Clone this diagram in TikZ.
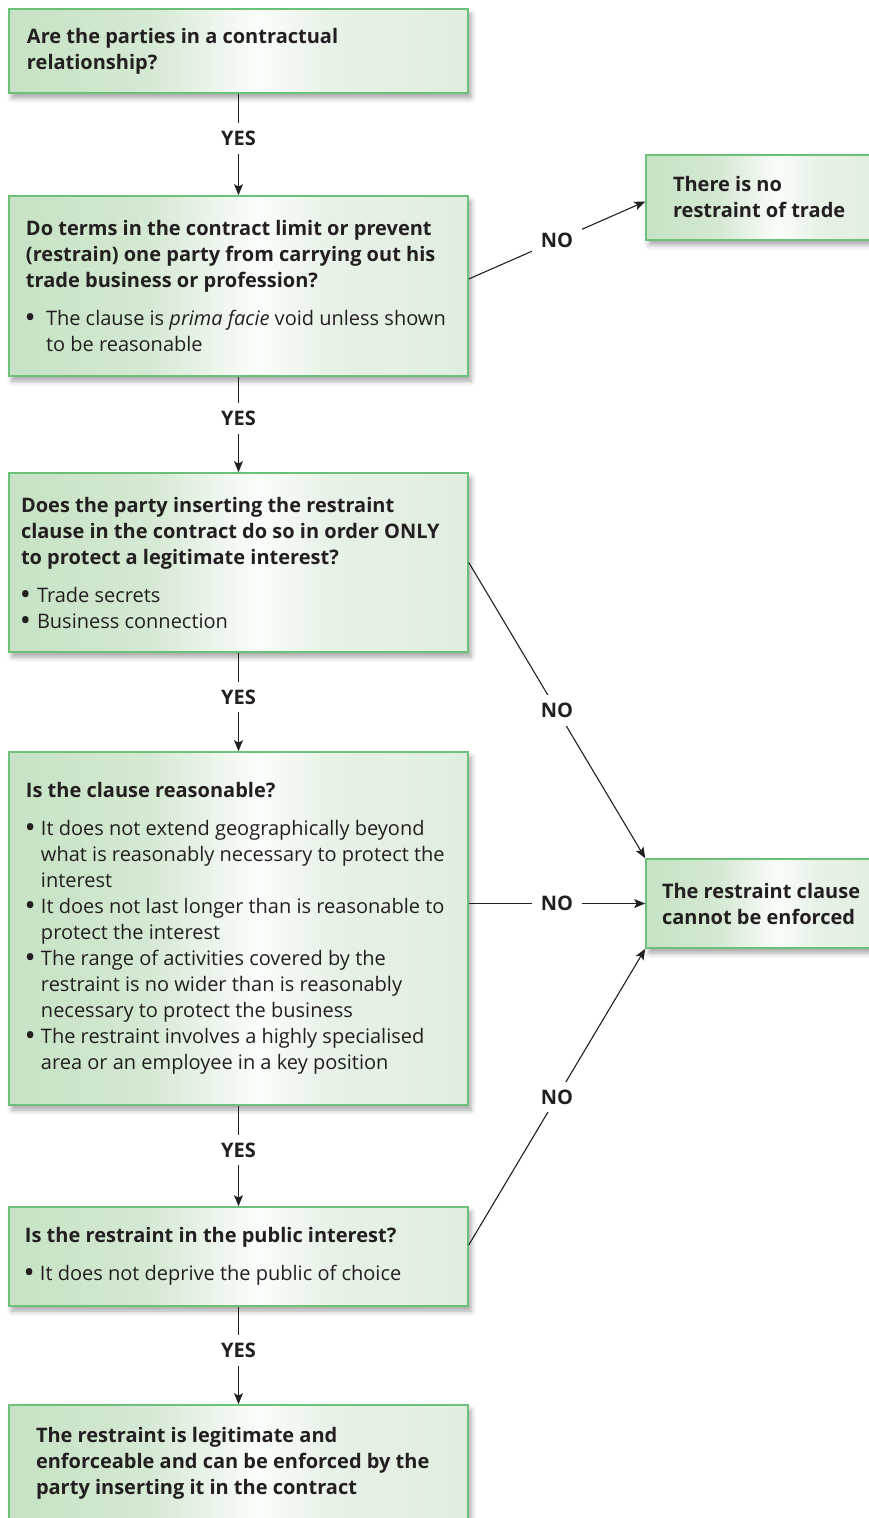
\documentclass[tikz,border=0pt]{standalone}
\usepackage{fontspec}
\setmainfont{Open Sans}
\usetikzlibrary{arrows.meta,shadows.blur}

\definecolor{ink}{HTML}{231F20}
\definecolor{boxline}{HTML}{6CC07A}
\definecolor{fillL}{HTML}{C6E2C4}
\definecolor{fillLm}{HTML}{D4E9D2}
\definecolor{fillC}{HTML}{FAFDFA}
\definecolor{fillRm}{HTML}{E7F2E6}
\definecolor{fillR}{HTML}{DFEEDE}

% horizontal panel fill: green on the left, pale in the middle, light green on the right
\pgfdeclarehorizontalshading{panelfill}{100bp}{%
  color(0bp)=(fillL); color(25bp)=(fillL); color(40bp)=(fillLm);
  color(52bp)=(fillC); color(60bp)=(fillRm); color(75bp)=(fillR); color(100bp)=(fillR)}

% text block inside a panel: left inset, block width, contents
\newcommand\paneltext[3]{\hspace*{#1}\parbox{#2}{\raggedright\fontsize{10}{13}\selectfont #3}}
% bullet point with hanging indent (lines inside are broken with \newline)
\newcommand\bpoint[2]{\par\hangindent=#1\hangafter=1\noindent
  \makebox[#1][l]{{\fontsize{11.5}{13}\selectfont\bfseries\textbullet}}#2\par}
% gap between a question and its bullet points
\newcommand\qgap{\par\vspace{6pt}}

\begin{document}
\begin{tikzpicture}[x=0.5pt,y=-0.5pt,
  panel/.style={shade, shading=panelfill, draw=boxline, line width=0.75pt,
    inner sep=0pt, text=ink,
    blur shadow={shadow xshift=1.5pt, shadow yshift=-2.5pt,
      shadow blur radius=2.5pt, shadow opacity=35}},
  conn/.style={draw=ink, line width=0.8pt,
    -{Stealth[length=5.5pt,width=4.4pt,inset=1.2pt]}},
  slant/.style={conn, line width=0.55pt},
  lbl/.style={fill=white, text=ink, font=\bfseries\fontsize{10}{12}\selectfont,
    inner xsep=4.5pt, inner ysep=4pt}]
\useasboundingbox (0,0) rectangle (868,1518);

% main column of questions
\node[panel, minimum width=229.5pt, minimum height=42pt] (b1) at (238.5,51)
  {\paneltext{9pt}{220.5pt}{\bfseries Are the parties in a contractual\\relationship?}};

\node[panel, minimum width=229.5pt, minimum height=90pt] (b2) at (238.5,286)
  {\paneltext{8.5pt}{221pt}{{\bfseries Do terms in the contract limit or prevent\\(restrain) one party from carrying out his\\trade business or profession?}\qgap
   \bpoint{10pt}{The clause is \textit{prima facie} void unless shown\newline to be reasonable}}};

\node[panel, minimum width=229.5pt, minimum height=89.5pt] (b3) at (238.5,562.5)
  {\paneltext{6pt}{223.5pt}{{\bfseries Does the party inserting the restraint\\clause in the contract do so in order ONLY\\to protect a legitimate interest?}\qgap
   \bpoint{8pt}{Trade secrets}
   \bpoint{8pt}{Business connection}}};

\node[panel, minimum width=229.5pt, minimum height=176.5pt] (b4) at (238.5,928.5)
  {\paneltext{8.5pt}{221pt}{{\bfseries Is the clause reasonable?}\qgap
   \bpoint{7.5pt}{It does not extend geographically beyond\newline what is reasonably necessary to protect the\newline interest}
   \bpoint{7.5pt}{It does not last longer than is reasonable to\newline protect the interest}
   \bpoint{7.5pt}{The range of activities covered by the\newline restraint is no wider than is reasonably\newline necessary to protect the business}
   \bpoint{7.5pt}{The restraint involves a highly specialised\newline area or an employee in a key position}}};

\node[panel, minimum width=229.5pt, minimum height=49.5pt] (b5) at (238.5,1256.5)
  {\paneltext{8pt}{221.5pt}{{\bfseries Is the restraint in the public interest?}\qgap
   \bpoint{7.5pt}{It does not deprive the public of choice}}};

\node[panel, minimum width=229.5pt, minimum height=58.5pt] (b6) at (238.5,1463.5)
  {\paneltext{13.5pt}{216pt}{\bfseries The restraint is legitimate and\\enforceable and can be enforced by the\\party inserting it in the contract}};

% outcomes on the right
\node[panel, minimum width=122pt, minimum height=42.5pt] (rb1) at (768,197.5)
  {\paneltext{13.5pt}{108.5pt}{\bfseries There is no\\restraint of trade}};

\node[panel, minimum width=122pt, minimum height=44.5pt] (rb2) at (768,903.5)
  {\paneltext{8pt}{114pt}{\bfseries The restraint clause\\cannot be enforced}};

% YES path down the column
\draw[conn] (b1.south) -- node[lbl, pos=0.44] (y1) {YES} (b2.north);
\draw[conn] (b2.south) -- node[lbl, pos=0.44] (y2) {YES} (b3.north);
\draw[conn] (b3.south) -- node[lbl, pos=0.45] (y3) {YES} (b4.north);
\draw[conn] (b4.south) -- node[lbl, pos=0.44] (y4) {YES} (b5.north);
\draw[conn] (b5.south) -- node[lbl, pos=0.45] (y5) {YES} (b6.north);

% NO branches
\draw[slant] ([yshift=3.5pt]b2.east) -- node[lbl] (n1) {NO} ([yshift=-2pt]rb1.west);
\draw[slant] (b3.east) -- node[lbl] (n2) {NO} (rb2.north west);
\draw[conn] (b4.east |- rb2.west) -- node[lbl] (n3) {NO} (rb2.west);
\draw[slant] ([yshift=5.75pt]b5.east) -- node[lbl] (n4) {NO} (rb2.south west);
\end{tikzpicture}
\end{document}
